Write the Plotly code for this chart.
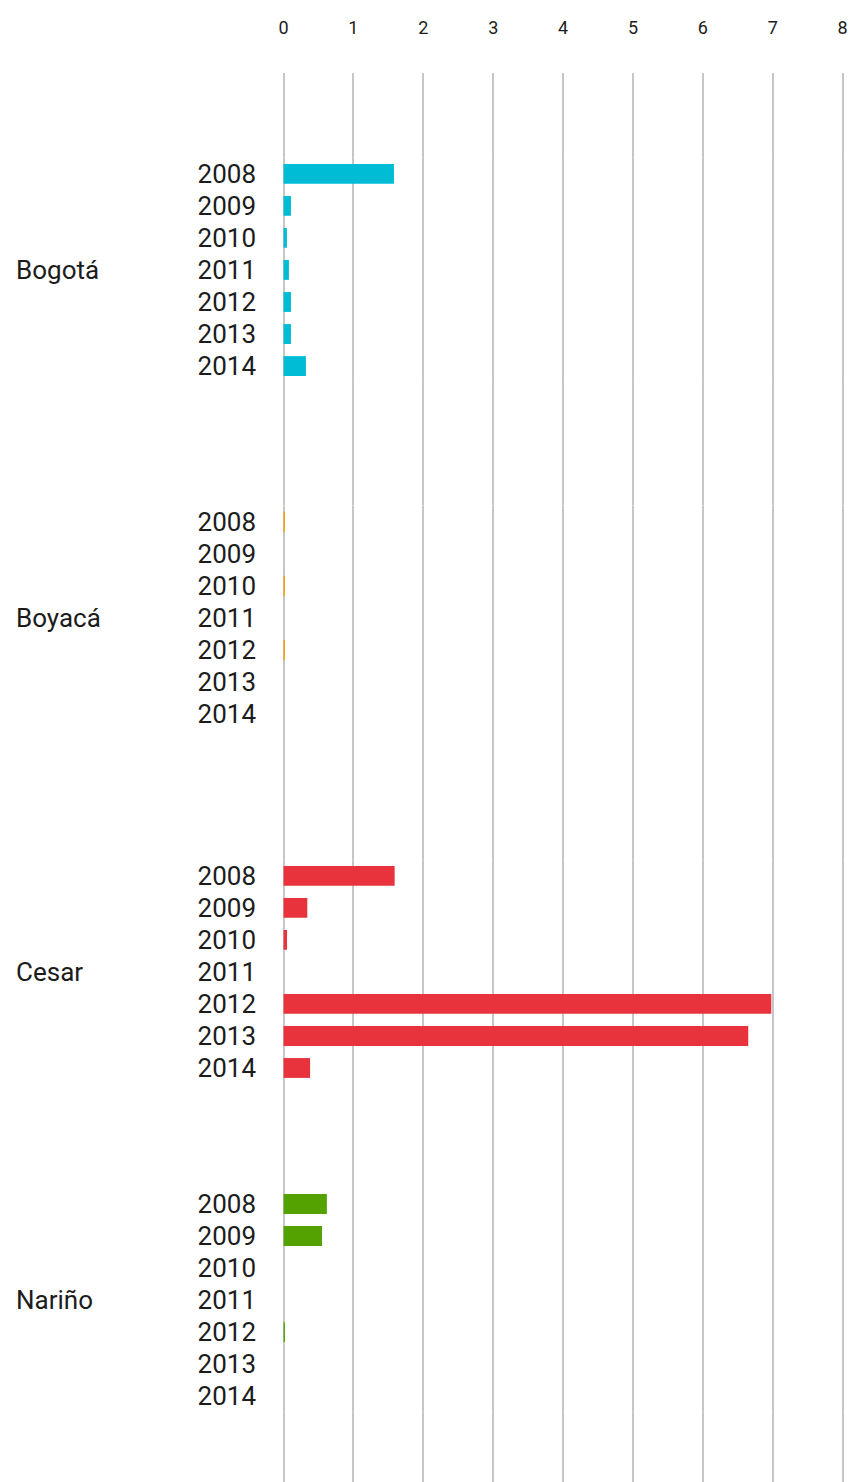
import plotly.graph_objects as go

years = ["2008", "2009", "2010", "2011", "2012", "2013", "2014"]
regions = ["Bogotá", "Boyacá", "Cesar", "Nariño"]

bogota = [1.58, 0.106, 0.048, 0.077, 0.106, 0.106, 0.32]
boyaca = [0.02, 0, 0.02, 0, 0.02, 0, 0]
cesar = [1.59, 0.34, 0.05, 0, 6.98, 6.65, 0.38]
narino = [0.62, 0.55, 0, 0, 0.02, 0, 0]

series = [bogota, boyaca, cesar, narino]
colors = ["#00BCD4", "#FF9800", "#E8333C", "#53A200"]

x_ticks = [0, 1, 2, 3, 4, 5, 6, 7, 8]

# vertical domains of each region block (paper fraction)
domains = [
    [0.78063, 0.93982],
    [0.53378, 0.69290],
    [0.28247, 0.44159],
    [0.04954, 0.20866],
]

FONT = "Roboto"
TXT = "#1c1c1c"
GRID = "#C6C6C6"

fig = go.Figure()

# background subplot spanning full height, to carry full-height gridlines
fig.add_trace(go.Scatter(x=[None], y=[None], xaxis="x", yaxis="y",
                         showlegend=False, hoverinfo="skip"))

for i, (name, vals, col) in enumerate(zip(regions, series, colors)):
    yname = "y%d" % (i + 2)
    fig.add_trace(go.Bar(
        x=vals, y=years, orientation="h",
        marker=dict(color=col, line=dict(width=0)),
        name=name, showlegend=False,
        xaxis="x", yaxis=yname,
    ))

layout = dict(
    width=850, height=1482,
    margin=dict(l=282, r=6, t=73, b=0, pad=0),
    paper_bgcolor="white", plot_bgcolor="white",
    font=dict(family=FONT, color=TXT),
    bargap=0.38,
    showlegend=False,
    xaxis=dict(
        anchor="y", side="top", range=[-0.022, 8.02],
        tickmode="array", tickvals=x_ticks, ticktext=[str(t) for t in x_ticks],
        showgrid=True, gridcolor=GRID, gridwidth=2,
        zeroline=False, showline=False, ticks="",
        tickfont=dict(size=18, family=FONT, color=TXT),
        ticklabelstandoff=34, automargin=False, fixedrange=True,
    ),
    yaxis=dict(domain=[0, 1], range=[0, 1], visible=False,
               showgrid=False, zeroline=False, fixedrange=True),
)

annotations = []
for i, name in enumerate(regions):
    key = "yaxis%d" % (i + 2)
    layout[key] = dict(
        domain=domains[i], anchor="x", type="category",
        categoryorder="array", categoryarray=years,
        autorange="reversed",
        showgrid=False, zeroline=False, showline=False, ticks="",
        tickfont=dict(size=26, family=FONT, color=TXT),
        ticklabelstandoff=25, automargin=False, fixedrange=True,
    )
    annotations.append(dict(
        text=name, xref="paper", x=(14 - 282) / 562, xanchor="left",
        yref="y%d domain" % (i + 2), y=0.5, yanchor="middle",
        showarrow=False, font=dict(size=26, family=FONT, color=TXT),
    ))

layout["annotations"] = annotations
fig.update_layout(**layout)

fig.write_html("out.html",
               config={"displayModeBar": False, "staticPlot": True},
               post_script="document.body.style.margin='0';"
                           "document.body.style.padding='0';")
